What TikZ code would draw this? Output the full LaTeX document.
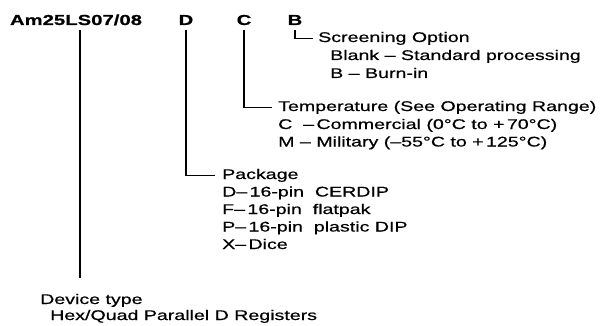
\documentclass[tikz,border=0pt]{standalone}
\usepackage{fontspec}
\setmainfont[FakeStretch=1.4, FakeBold=0.6]{Liberation Sans}
\usepackage{tikz}

\newcommand\partfont{\fontsize{14}{17.5}\selectfont}
\newcommand\codefont{\fontsize{14.5}{17.5}\selectfont\bfseries}

\tikzset{
  code/.style={inner sep=0pt, anchor=base, font=\codefont},
  txt/.style={inner sep=0pt, anchor=base west, font=\partfont},
  lead/.style={line width=1.2pt, shorten <=5pt},
}

\begin{document}
\begin{tikzpicture}[x=1pt, y=-1pt]
      \useasboundingbox (0,0) rectangle (612,326);

      % Order code letters
      \node[code] (am) at (76,25) {Am25LS07/08};
      \node[code] (codeD) at (186,25) {D};
      \node[code] (codeC) at (244,25) {C};
      \node[code] (codeB) at (295,25) {B};

      % Screening option
      \node[txt] (scr) at (318,42) {Screening Option};
      \node[txt] (scrA) at (330,60) {Blank -- Standard processing};
      \node[txt] (scrB) at (330,78) {B -- Burn-in};

      % Temperature
      \node[txt] (tmp) at (278,111) {Temperature (See Operating Range)};
      \node[txt] (tmpC) at (278,129) {C\ \ --\,Commercial (0°C to +\,70°C)};
      \node[txt] (tmpM) at (278,146.5) {M -- Military (--55°C to +\,125°C)};

      % Package
      \node[txt] (pkg) at (222,179) {Package};
      \node[txt] (pkgD) at (222,196.5) {D--\,16-pin\ \ CERDIP};
      \node[txt] (pkgF) at (222,214) {F--\,16-pin\ \ flatpak};
      \node[txt] (pkgP) at (222,231.5) {P--\,16-pin\ \ plastic DIP};
      \node[txt] (pkgX) at (222,249) {X--\,Dice};

      % Device type
      \node[txt] (dev) at (40,304) {Device type};
      \node[txt] (devA) at (50,320) {Hex/Quad Parallel D Registers};
      \coordinate (devtop) at (80,278);

      % Leader lines
      \draw[lead] (devtop |- am.base) -- (devtop);
      \draw[lead] (codeD.base) |- ([xshift=-7pt]pkg.west);
      \draw[lead] (codeC.base) |- ([xshift=-6pt]tmp.west);
      \draw[lead] (codeB.base) |- ([xshift=-5pt]scr.west);
\end{tikzpicture}
\end{document}
